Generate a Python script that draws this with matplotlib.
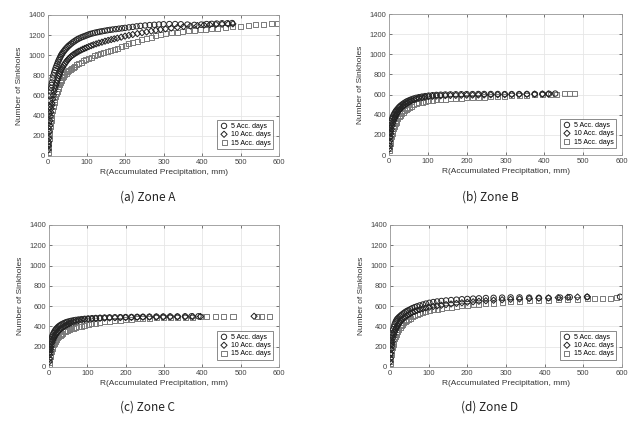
import matplotlib
matplotlib.use("Agg")
import matplotlib.pyplot as plt

plt.rcParams['font.family'] = ['Liberation Sans', 'DejaVu Sans']

# shared rainfall steps for the steep part of zones B, C, D
R_COMMON = [0.5, 1, 2, 3, 4, 5, 6, 8, 10, 12,
            14, 16, 18, 20, 23, 26, 29, 32, 36, 40,
            44, 48, 53, 58, 64, 70, 77, 85, 93, 102,
            112, 122, 133, 145, 158, 172, 186, 200, 215, 230]

# ---- Zone A ----
A5_x = [0.5, 1, 1.5, 2, 3, 4, 5, 6, 7, 8,
        9, 10, 12, 14, 16, 18, 20, 22, 24, 26,
        28, 30, 32, 34, 36, 38, 41, 44, 47, 50,
        53, 56, 60, 64, 68, 72, 76, 80, 85, 90,
        95, 100, 105, 110, 116, 122, 128, 134, 140, 147,
        154, 161, 168, 176, 184, 192, 200, 210, 220, 230,
        240, 252, 264, 276, 288, 300, 315, 330, 345, 362,
        380, 398, 412, 425, 438, 452, 466, 478]
A5_y = [120, 200, 270, 330, 420, 490, 550, 600, 640, 675,
        705, 730, 770, 800, 828, 852, 875, 895, 915, 935,
        952, 968, 985, 1000, 1012, 1025, 1040, 1055, 1068, 1080,
        1092, 1102, 1115, 1127, 1138, 1148, 1158, 1166, 1175, 1183,
        1190, 1198, 1205, 1212, 1218, 1224, 1229, 1234, 1238, 1243,
        1248, 1252, 1256, 1260, 1264, 1268, 1272, 1277, 1282, 1287,
        1292, 1296, 1300, 1303, 1306, 1308, 1310, 1310, 1308, 1305,
        1302, 1305, 1310, 1312, 1315, 1318, 1318, 1320]

A10_x = [0.5, 1, 1.5, 2, 3, 4, 5, 6, 7, 8,
         9, 10, 12, 14, 16, 18, 20, 22, 24, 26,
         28, 30, 32, 34, 36, 38, 41, 44, 47, 50,
         53, 56, 60, 64, 68, 72, 76, 80, 85, 90,
         95, 100, 106, 112, 118, 125, 132, 140, 148, 156,
         164, 172, 180, 190, 200, 210, 220, 232, 244, 256,
         268, 280, 292, 305, 320, 336, 352, 370, 388, 405,
         420, 436, 452, 468, 480]
A10_y = [60, 100, 140, 175, 240, 300, 350, 395, 435, 470,
         500, 525, 565, 605, 640, 670, 700, 725, 750, 772,
         795, 815, 835, 852, 868, 882, 900, 918, 935, 950,
         962, 975, 990, 1002, 1012, 1022, 1032, 1040, 1050, 1060,
         1068, 1076, 1086, 1095, 1104, 1113, 1122, 1130, 1140, 1148,
         1156, 1163, 1170, 1180, 1190, 1198, 1206, 1215, 1224, 1232,
         1240, 1248, 1255, 1262, 1270, 1278, 1285, 1290, 1295, 1300,
         1303, 1306, 1308, 1310, 1312]

A15_x = [0.5, 1, 1.5, 2, 3, 4, 5, 6, 7, 8,
         9, 10, 12, 14, 16, 18, 20, 22, 24, 26,
         28, 30, 32, 34, 36, 38, 41, 44, 47, 50,
         54, 58, 62, 66, 70, 75, 80, 86, 92, 98,
         105, 112, 120, 128, 136, 145, 154, 163, 172, 181,
         190, 200, 210, 220, 232, 244, 256, 268, 280, 292,
         305, 320, 335, 350, 365, 380, 395, 410, 425, 440,
         460, 480, 500, 520, 540, 560, 580, 595]
A15_y = [30, 60, 90, 120, 170, 215, 255, 290, 325, 355,
         385, 410, 455, 495, 530, 562, 590, 618, 645, 668,
         690, 710, 728, 745, 760, 775, 792, 808, 822, 835,
         848, 860, 872, 882, 892, 905, 918, 932, 945, 958,
         970, 982, 995, 1005, 1015, 1025, 1036, 1048, 1060, 1072,
         1085, 1100, 1112, 1125, 1140, 1155, 1168, 1180, 1192, 1202,
         1212, 1222, 1230, 1238, 1244, 1250, 1255, 1260, 1264, 1268,
         1275, 1282, 1290, 1298, 1304, 1308, 1314, 1318]

# ---- Zone B ----
B5_x = R_COMMON + [245, 262, 280, 298, 316, 335, 355, 375, 395, 412, 428]
B5_y = [120, 170, 230, 270, 300, 320, 335, 360, 380, 398,
        412, 425, 437, 448, 462, 475, 486, 496, 508, 518,
        528, 536, 545, 553, 561, 568, 574, 580, 585, 590,
        594, 597, 599, 601, 602, 603, 604, 605, 605, 606,
        606, 606, 606, 605, 605, 605, 606, 606, 607, 608, 610]

B10_x = R_COMMON + [245, 262, 280, 298, 316, 335, 355, 375, 395, 410]
B10_y = [60, 90, 140, 180, 210, 235, 255, 290, 318, 342,
         362, 380, 396, 410, 428, 444, 458, 470, 484, 496,
         507, 517, 528, 538, 548, 556, 564, 570, 575, 580,
         583, 586, 588, 590, 591, 592, 593, 594, 595, 596,
         597, 598, 599, 600, 601, 602, 603, 604, 605, 606]

B15_x = R_COMMON + [245, 262, 280, 298, 316, 335, 355, 375, 395, 415,
                    432, 452, 465, 478]
B15_y = [40, 60, 90, 115, 140, 160, 180, 210, 240, 265,
         288, 308, 326, 342, 362, 380, 396, 410, 426, 440,
         452, 463, 475, 486, 498, 508, 517, 525, 532, 538,
         543, 547, 551, 555, 558, 561, 564, 567, 570, 573,
         576, 579, 582, 585, 588, 591, 594, 597, 600, 602,
         604, 606, 608, 610]

# ---- Zone C ----
C5_x = R_COMMON + [245, 262, 280, 298, 316, 335, 355, 372, 390]
C5_y = [140, 170, 200, 225, 245, 262, 275, 298, 318, 334,
        348, 360, 370, 380, 392, 402, 410, 418, 426, 433,
        440, 445, 450, 455, 460, 464, 468, 472, 475, 478,
        481, 483, 485, 487, 489, 490, 491, 492, 493, 494,
        495, 496, 497, 497, 498, 498, 499, 500, 500]

C10_x = R_COMMON + [245, 262, 280, 298, 316, 335, 355, 375, 395, 535]
C10_y = [50, 80, 120, 150, 175, 195, 212, 240, 262, 280,
         296, 310, 322, 333, 347, 359, 370, 380, 391, 401,
         410, 418, 427, 435, 443, 450, 457, 463, 468, 472,
         475, 478, 480, 482, 484, 486, 487, 488, 489, 490,
         491, 492, 493, 494, 495, 495, 496, 497, 498, 500]

C15_x = R_COMMON + [245, 262, 280, 298, 316, 335, 355, 375, 395, 412,
                    435, 455, 480, 545, 555, 575]
C15_y = [25, 45, 75, 100, 122, 140, 155, 180, 200, 218,
         234, 248, 260, 272, 287, 300, 312, 322, 334, 345,
         354, 362, 370, 377, 384, 390, 397, 404, 410, 417,
         424, 431, 438, 445, 451, 457, 462, 467, 471, 475,
         478, 481, 484, 486, 488, 490, 491, 492, 493, 494,
         495, 496, 498, 500, 500, 500]

# ---- Zone D ----
D5_x = R_COMMON + [248, 268, 290, 312, 335, 360, 385, 410, 440, 465,
                   510, 595]
D5_y = [120, 170, 220, 260, 290, 315, 335, 370, 398, 420,
        440, 455, 468, 478, 490, 500, 510, 520, 532, 543,
        552, 560, 570, 580, 590, 598, 607, 616, 625, 633,
        640, 646, 651, 656, 660, 664, 668, 671, 674, 677,
        680, 682, 684, 686, 686, 684, 682, 680, 684, 688,
        690, 692]

D10_x = R_COMMON + [248, 268, 290, 312, 335, 360, 385, 410, 435, 460,
                    485, 510]
D10_y = [50, 85, 135, 175, 205, 230, 252, 290, 320, 345,
         365, 382, 397, 410, 428, 444, 458, 470, 484, 496,
         507, 517, 528, 538, 548, 557, 566, 575, 583, 590,
         597, 603, 609, 615, 621, 627, 633, 638, 643, 648,
         653, 658, 663, 667, 671, 675, 678, 681, 684, 687,
         690, 692]

D15_x = R_COMMON + [248, 268, 290, 312, 335, 360, 385, 410, 435, 460,
                    485, 510, 530, 550, 570, 585]
D15_y = [30, 55, 90, 120, 145, 168, 188, 222, 252, 278,
         300, 320, 337, 352, 372, 390, 405, 418, 434, 448,
         460, 470, 482, 494, 506, 517, 528, 539, 548, 556,
         563, 570, 577, 584, 591, 597, 603, 608, 613, 618,
         624, 630, 636, 641, 646, 651, 655, 659, 663, 666,
         669, 672, 675, 678, 680, 682]

labels = ["5 Acc. days", "10 Acc. days", "15 Acc. days"]
captions = ["(a) Zone A", "(b) Zone B", "(c) Zone C", "(d) Zone D"]

zones = [
    [(A5_x, A5_y), (A10_x, A10_y), (A15_x, A15_y)],
    [(B5_x, B5_y), (B10_x, B10_y), (B15_x, B15_y)],
    [(C5_x, C5_y), (C10_x, C10_y), (C15_x, C15_y)],
    [(D5_x, D5_y), (D10_x, D10_y), (D15_x, D15_y)],
]

markers = ['o', 'D', 's']
msizes = [15, 10, 13]
colors = ['#262626', '#202020', '#7a7a7a']

# axes boxes in figure fraction: left, bottom, width, height
boxes = [
    [0.0747, 0.6295, 0.3593, 0.3349],
    [0.6050, 0.6318, 0.3624, 0.3349],
    [0.0762, 0.1283, 0.3577, 0.3373],
    [0.6065, 0.1283, 0.3608, 0.3373],
]
cap_pos = [(0.230, 0.532), (0.762, 0.532), (0.230, 0.033), (0.762, 0.033)]

fig = plt.figure(figsize=(6.43, 4.21), dpi=100)

for k in range(4):
    ax = fig.add_axes(boxes[k])
    # draw 15-day first so darker markers sit on top
    for j in [2, 1, 0]:
        xs, ys = zones[k][j]
        ax.scatter(xs, ys, s=msizes[j], marker=markers[j], facecolors='none',
                   edgecolors=colors[j], linewidths=0.7, label=labels[j], zorder=3)
    ax.set_xlim(0, 600)
    ax.set_ylim(0, 1400)
    ax.set_xticks(range(0, 601, 100))
    ax.set_yticks(range(0, 1401, 200))
    ax.grid(True, color='#e6e6e6', linewidth=0.6)
    ax.set_axisbelow(True)
    ax.tick_params(direction='in', length=2, width=0.5, labelsize=5.5,
                   colors='#444444', top=True, right=True, pad=2)
    for sp in ax.spines.values():
        sp.set_color('#999999')
        sp.set_linewidth(0.6)
    ax.set_xlabel("R(Accumulated Precipitation, mm)", fontsize=6, color='#333333', labelpad=2)
    ax.set_ylabel("Number of Sinkholes", fontsize=6, color='#333333', labelpad=4)
    h, l = ax.get_legend_handles_labels()
    leg = ax.legend(h[::-1], l[::-1], loc='lower right', bbox_to_anchor=(0.975, 0.05),
                    borderaxespad=0, fontsize=5, frameon=True, fancybox=False,
                    handletextpad=0.4, borderpad=0.35, labelspacing=0.2,
                    handlelength=1.2, markerscale=1.0)
    leg.get_frame().set_edgecolor('#555555')
    leg.get_frame().set_linewidth(0.6)
    fig.text(cap_pos[k][0], cap_pos[k][1], captions[k], ha='center', va='center',
             fontsize=8.5, family=['Noto Sans CJK KR', 'DejaVu Sans'], color='#222222')

fig.savefig("out.png", dpi=100, facecolor='white')
